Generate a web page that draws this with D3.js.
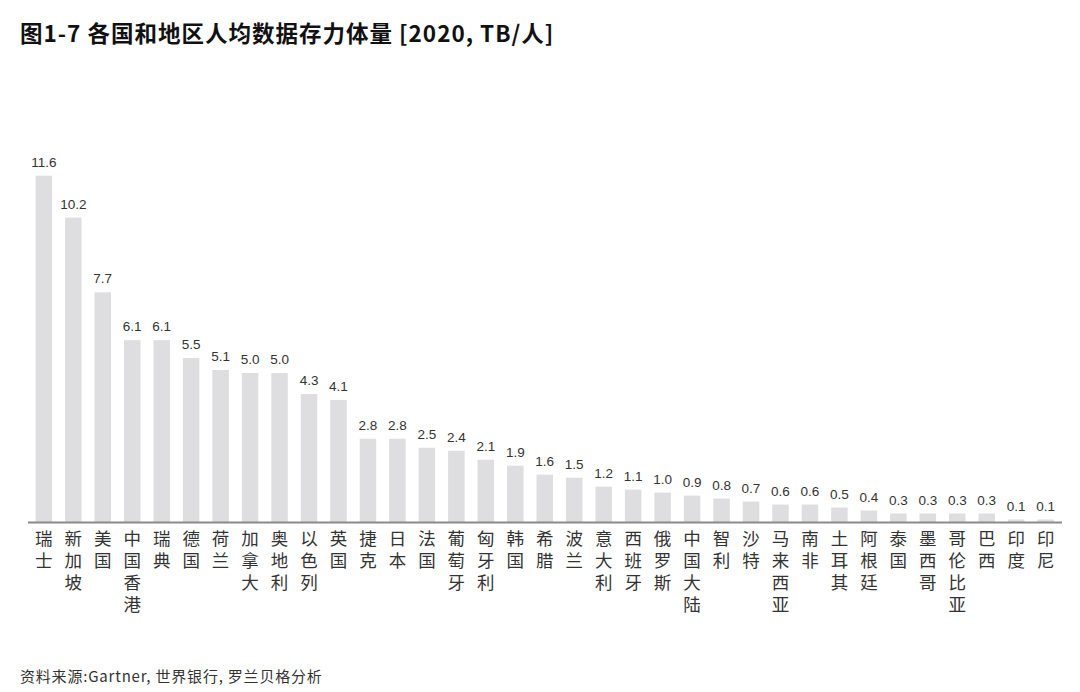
<!DOCTYPE html>
<html>
<head>
<meta charset="utf-8">
<script src="https://cdn.jsdelivr.net/npm/d3@7"></script>
<style>
  body { margin: 0; background: #fff; }
</style>
</head>
<body>
<svg id="chart" width="1080" height="692"></svg>
<script>
const regions = ['瑞士', '新加坡', '美国', '中国香港', '瑞典', '德国', '荷兰', '加拿大', '奥地利', '以色列',
  '英国', '捷克', '日本', '法国', '葡萄牙', '匈牙利', '韩国', '希腊', '波兰', '意大利',
  '西班牙', '俄罗斯', '中国大陆', '智利', '沙特', '马来西亚', '南非', '土耳其', '阿根廷', '泰国',
  '墨西哥', '哥伦比亚', '巴西', '印度', '印尼'];
const storage = [11.6, 10.2, 7.7, 6.1, 6.1, 5.5, 5.1, 5.0, 5.0, 4.3,
  4.1, 2.8, 2.8, 2.5, 2.4, 2.1, 1.9, 1.6, 1.5, 1.2,
  1.1, 1.0, 0.9, 0.8, 0.7, 0.6, 0.6, 0.5, 0.4, 0.3,
  0.3, 0.3, 0.3, 0.1, 0.1];

const svg = d3.select('#chart'),
  baseline = 522.5,
  cjk = '"Noto Sans CJK SC", "Noto Sans", sans-serif';

const x = d3.scaleBand()
  .domain(regions)
  .range([28.5, 1061])
  .paddingInner(0.44)
  .paddingOuter(0.24);

const y = d3.scaleLinear()
  .domain([0, 11.6])
  .range([baseline, 175.7]);

svg.append('text')
  .attr('x', 20)
  .attr('y', 42)
  .attr('font-family', cjk)
  .attr('font-weight', 'bold')
  .attr('font-size', 22.5)
  .attr('letter-spacing', 1)
  .attr('fill', '#111')
  .text('图1-7 各国和地区人均数据存力体量 [2020, TB/人]');

svg.append('g')
  .selectAll('rect')
  .data(storage)
  .enter()
  .append('rect')
  .attr('x', (d, i) => x(regions[i]))
  .attr('y', d => y(d))
  .attr('width', x.bandwidth())
  .attr('height', d => baseline - y(d))
  .attr('fill', '#dedee0');

svg.append('g')
  .attr('font-family', '"Liberation Sans", Arial, sans-serif')
  .attr('font-size', 13.5)
  .attr('fill', '#333')
  .attr('text-anchor', 'middle')
  .selectAll('text')
  .data(storage)
  .enter()
  .append('text')
  .attr('x', (d, i) => x(regions[i]) + x.bandwidth() / 2)
  .attr('y', d => y(d) - 9)
  .text(d => d.toFixed(1));

svg.append('line')
  .attr('x1', 28)
  .attr('x2', 1062)
  .attr('y1', baseline)
  .attr('y2', baseline)
  .attr('stroke', '#8a8a8a')
  .attr('stroke-width', 2);

// one text per character, stacked vertically under each bar
const labelGroups = svg.append('g')
  .attr('font-family', cjk)
  .attr('font-size', 17.5)
  .attr('fill', '#333')
  .attr('text-anchor', 'middle')
  .selectAll('g')
  .data(regions)
  .enter()
  .append('g')
  .attr('transform', d => `translate(${x(d) + x.bandwidth() / 2},545)`);

labelGroups.selectAll('text')
  .data(d => Array.from(d))
  .enter()
  .append('text')
  .attr('y', (d, i) => i * 22)
  .text(d => d);

svg.append('text')
  .attr('x', 20)
  .attr('y', 682)
  .attr('font-family', cjk)
  .attr('font-size', 15)
  .attr('letter-spacing', 0.8)
  .attr('fill', '#333')
  .text('资料来源:Gartner, 世界银行, 罗兰贝格分析');
</script>
</body>
</html>
